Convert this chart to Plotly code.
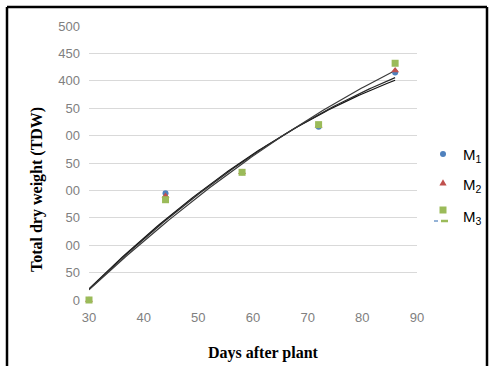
import numpy as np
import plotly.graph_objects as go

# Sampling days and total dry weight for each treatment
days = [30, 44, 58, 72, 86]
m1_tdw = [0, 195, 233, 316, 415]
m2_tdw = [0, 190, 233, 318, 419]
m3_tdw = [0, 183, 233, 320, 432]

series_names = ["M<sub>1</sub>", "M<sub>2</sub>", "M<sub>3</sub>"]
series_values = [m1_tdw, m2_tdw, m3_tdw]
series_colors = ["#4f81bd", "#c0504d", "#9bbb59"]
series_symbols = ["circle", "triangle-up", "square"]
series_sizes = [6, 7, 7]

y_tick_values = [0, 50, 100, 150, 200, 250, 300, 350, 400, 450, 500]
y_tick_text = ["0", "50", "00", "50", "00", "50", "00", "50", "400", "450", "500"]
x_tick_values = [30, 40, 50, 60, 70, 80, 90]

# Plot-area geometry (pixels) used to place frame, titles and key
W, H = 489, 366
L, R, T, B = 89, 417, 26, 300

# Key layout (pixel positions of swatches and labels)
key_swatch_x = 443
key_text_x = 461
key_swatch_y = [154, 183, 210]
key_text_y = [155, 185, 217]

# Swatch outlines in pixels relative to their anchor (y up)
swatch_paths = {
    "circle": None,
    "triangle-up": "M-3.6,-2.6 L3.6,-2.6 L0,3.8 Z",
    "square": "M-3.5,-3.5 L3.5,-3.5 L3.5,3.5 L-3.5,3.5 Z",
}


def px_x(p):
    return (p - L) / (R - L)


def px_y(p):
    return (B - p) / (B - T)


fig = go.Figure()

# Second-order polynomial trendlines for each series
x_fit = np.linspace(min(days), max(days), 120)
for vals, shade in zip(series_values, ["#111111", "#2a2a2a", "#3a3a3a"]):
    coef = np.polyfit(days, vals, 2)
    fig.add_trace(go.Scatter(
        x=x_fit, y=np.polyval(coef, x_fit), mode="lines",
        line=dict(color=shade, width=1.2), showlegend=False, hoverinfo="skip",
        cliponaxis=False,
    ))

# Observed points
for name, vals, col, sym, sz in zip(series_names, series_values, series_colors,
                                     series_symbols, series_sizes):
    fig.add_trace(go.Scatter(
        x=days, y=vals, mode="markers", name=name,
        marker=dict(color=col, symbol=sym, size=sz, line=dict(width=0)),
        showlegend=False, cliponaxis=False,
    ))

frame = dict(color="#000000", width=2.5)
shapes = [
    dict(type="line", xref="paper", yref="paper", x0=px_x(7), x1=px_x(7), y0=px_y(366), y1=px_y(7), line=frame),
    dict(type="line", xref="paper", yref="paper", x0=px_x(7), x1=px_x(487), y0=px_y(7), y1=px_y(7), line=frame),
    dict(type="line", xref="paper", yref="paper", x0=px_x(487), x1=px_x(487), y0=px_y(366), y1=px_y(7), line=frame),
    # small trendline marks under the M3 key swatch
    dict(type="line", xref="paper", yref="paper", x0=px_x(434), x1=px_x(438), y0=px_y(221), y1=px_y(221),
         line=dict(color="#4f81bd", width=1.2)),
    dict(type="line", xref="paper", yref="paper", x0=px_x(441), x1=px_x(448), y0=px_y(221), y1=px_y(221),
         line=dict(color="#9bbb59", width=2.5)),
]

# Key swatches, drawn as pixel-sized shapes in the right margin
for sym, col, sy in zip(series_symbols, series_colors, key_swatch_y):
    common = dict(xref="paper", yref="paper", xsizemode="pixel", ysizemode="pixel",
                  xanchor=px_x(key_swatch_x), yanchor=px_y(sy),
                  fillcolor=col, line=dict(width=0), layer="above")
    if sym == "circle":
        shapes.append(dict(type="circle", x0=-3, x1=3, y0=-3, y1=3, **common))
    else:
        shapes.append(dict(type="path", path=swatch_paths[sym], **common))

title_font = dict(family="Liberation Serif, Times New Roman, serif", size=16, color="#000000")
tick_font = dict(family="Liberation Sans Narrow, Arial Narrow, sans-serif", size=13, color="#808080")
key_font = dict(family="Liberation Sans, Arial, sans-serif", size=15, color="#000000")

annotations = [
    dict(text="<b>Total dry weight (TDW)</b>", xref="paper", yref="paper",
         x=px_x(37), y=px_y(190), textangle=-90, showarrow=False,
         xanchor="center", yanchor="middle", font=title_font),
    dict(text="<b>Days after plant</b>", xref="paper", yref="paper",
         x=px_x(263), y=px_y(353), showarrow=False,
         xanchor="center", yanchor="middle", font=title_font),
]
for name, ty in zip(series_names, key_text_y):
    annotations.append(dict(
        text=name, xref="paper", yref="paper", x=px_x(key_text_x), y=px_y(ty),
        showarrow=False, xanchor="left", yanchor="middle", font=key_font,
    ))

fig.update_layout(
    width=W, height=H,
    margin=dict(l=L, r=W - R, t=T, b=H - B, autoexpand=False),
    paper_bgcolor="#ffffff", plot_bgcolor="#ffffff",
    showlegend=False,
    xaxis=dict(
        range=[30, 90], tickvals=x_tick_values, showgrid=False, zeroline=False,
        showline=False, ticks="", ticklabelstandoff=8, tickfont=tick_font,
    ),
    yaxis=dict(
        range=[0, 500], tickvals=y_tick_values, ticktext=y_tick_text,
        showgrid=True, gridcolor="#d9d9d9", gridwidth=1, zeroline=False,
        showline=False, ticks="", ticklabelstandoff=8, tickfont=tick_font,
    ),
    shapes=shapes,
    annotations=annotations,
)

fig.write_html("out.html")
